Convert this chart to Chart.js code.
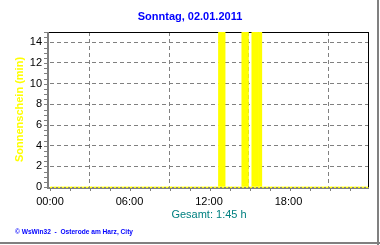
<!DOCTYPE html>
<html>
<head>
<meta charset="utf-8">
<script src="https://cdn.jsdelivr.net/npm/chart.js@4.4.1/dist/chart.umd.min.js"></script>
<style>
  html, body { margin: 0; padding: 0; background: #fff; }
  canvas { display: block; }
</style>
</head>
<body>
<canvas id="sunChart" width="380" height="245"></canvas>
<script>
// Sonnenschein in Minuten je 15-Minuten-Intervall
const dayTitle = "Sonntag, 02.01.2011";
const totalText = "Gesamt: 1:45 h";
const footerText = "\u00a9 WsWin32  -  Osterode am Harz, City";
const yTitle = "Sonnenschein (min)";
const intervalMinutes = 15;
const sunMinutes = [
    0, 0, 0, 0,  0, 0, 0, 0,  0, 0, 0, 0,      // 00:00 - 02:45
    0, 0, 0, 0,  0, 0, 0, 0,  0, 0, 0, 0,      // 03:00 - 05:45
    0, 0, 0, 0,  0, 0, 0, 0,  0, 0, 0, 0,      // 06:00 - 08:45
    0, 0, 0, 0,  0, 0, 0, 0,  0, 0, 0, 0,      // 09:00 - 11:45
    0, 0, 0, 15, 15, 0, 0, 0,  0, 0, 15, 15,   // 12:00 - 14:45
    0, 15, 15, 15, 0, 0, 0, 0, 0, 0, 0, 0,     // 15:00 - 17:45
    0, 0, 0, 0,  0, 0, 0, 0,  0, 0, 0, 0,      // 18:00 - 20:45
    0, 0, 0, 0,  0, 0, 0, 0,  0, 0, 0, 0       // 21:00 - 23:45
];
const xTickLabels = ["00:00", "06:00", "12:00", "18:00"];
const yTicks = [0, 2, 4, 6, 8, 10, 12, 14];

const fontFam = "'Liberation Sans', Arial, sans-serif";
const grey = "#808080";

const framePlugin = {
    id: "frame",
    beforeDraw(chart) {
        const c = chart.ctx;
        c.save();
        c.fillStyle = "#fff";
        c.fillRect(0, 0, chart.width, chart.height);
        c.restore();
    },
    beforeDatasetsDraw(chart) {
        const c = chart.ctx, a = chart.chartArea;
        c.save();
        c.fillStyle = "#000";
        c.fillRect(a.left - 1, a.top, a.right - a.left + 2, 1);
        c.fillRect(a.right, a.top, 1, a.bottom - a.top);
        c.restore();
    },
    afterDatasetsDraw(chart) {
        const c = chart.ctx, a = chart.chartArea;
        const x = chart.scales.x, y = chart.scales.y;
        const y0 = Math.round(y.getPixelForValue(0));
        c.save();
        c.fillStyle = grey;
        // achsen
        c.fillRect(a.left - 3, a.top, 2, y0 - a.top + 2);
        c.fillRect(a.left - 3, y0, a.right - a.left + 4, 2);
        // y ticks alle 0.5
        for (let v = 0; v <= 15; v += 0.5) {
            const py = Math.round(y.getPixelForValue(v));
            c.fillRect(a.left - 6, py, 3, 1);
        }
        // x ticks alle 90 min
        for (let t = 0; t <= x.max; t += 90) {
            const px = Math.round(x.getPixelForValue(t));
            c.fillRect(px, y0 + 2, 1, 2);
        }
        // gelbe null-linie
        c.strokeStyle = "#ffff00";
        c.lineWidth = 1;
        c.setLineDash([2, 2]);
        c.beginPath();
        c.moveTo(a.left, y0 + 0.5);
        c.lineTo(a.right, y0 + 0.5);
        c.stroke();
        c.restore();
    },
    afterDraw(chart) {
        const c = chart.ctx, a = chart.chartArea;
        c.save();
        c.textBaseline = "middle";
        c.textAlign = "center";
        c.fillStyle = "#0000ff";
        c.font = "bold 11px " + fontFam;
        c.fillText(dayTitle, 190, 17);
        c.fillStyle = "#008080";
        c.font = "11px " + fontFam;
        c.fillText(totalText, (a.left + a.right) / 2, 215);
        c.textAlign = "left";
        c.fillStyle = "#0000ff";
        c.font = "bold 6.6px " + fontFam;
        c.fillText(footerText, 15, 232);
        // rahmen rechts/unten
        c.fillStyle = grey;
        c.fillRect(377, 0, 2, 245);
        c.fillRect(0, 242, 380, 2);
        c.restore();
    }
};

new Chart("sunChart", {
    type: "bar",
    data: {
        datasets: [{
            data: sunMinutes.map((v, i) => ({ x: i * intervalMinutes, y: v })),
            backgroundColor: "#ffff00",
            borderWidth: 0,
            barPercentage: 1.0,
            categoryPercentage: 1.0
        }]
    },
    options: {
        responsive: false,
        animation: false,
        events: [],
        layout: { padding: { left: 0, top: 32, right: 12, bottom: 38 } },
        plugins: {
            legend: { display: false },
            tooltip: { enabled: false },
            title: { display: false }
        },
        scales: {
            x: {
                type: "linear",
                min: 0,
                max: 1430,
                bounds: "data",
                offset: false,
                afterFit: s => { s.height = 20; },
                grid: { color: grey, lineWidth: 1, drawTicks: false },
                border: { display: false, dash: [4, 3] },
                ticks: {
                    stepSize: 360,
                    includeBounds: false,
                    autoSkip: false,
                    maxRotation: 0,
                    padding: 8,
                    color: "#000",
                    font: { family: fontFam, size: 11 },
                    callback: (v, i) => xTickLabels[i]
                }
            },
            y: {
                min: 0,
                max: 15,
                bounds: "data",
                afterFit: s => { s.width = 50; },
                grid: { color: grey, lineWidth: 1, drawTicks: false },
                border: { display: false, dash: [4, 3] },
                ticks: {
                    stepSize: 2,
                    includeBounds: false,
                    padding: 8,
                    color: "#000",
                    font: { family: fontFam, size: 11 },
                    callback: v => (yTicks.includes(v) ? v : "")
                },
                title: {
                    display: true,
                    text: yTitle,
                    color: "#ffff00",
                    font: { family: fontFam, size: 11, weight: "bold" },
                    padding: { top: 13, bottom: 0 }
                }
            }
        }
    },
    plugins: [framePlugin]
});
</script>
</body>
</html>
